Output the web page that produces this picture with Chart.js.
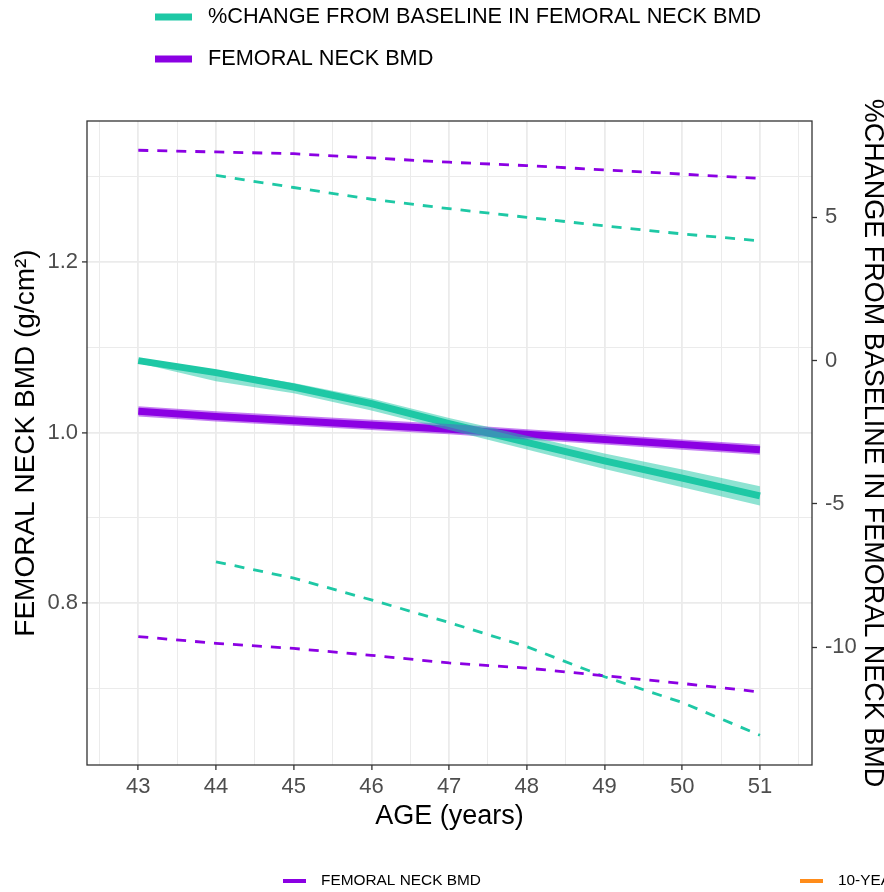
<!DOCTYPE html>
<html lang="en">
<head>
<meta charset="UTF-8">
<title>Femoral neck BMD by age</title>
<script src="https://cdn.jsdelivr.net/npm/chart.js"></script>
<style>
  html, body { margin: 0; padding: 0; background: #fff; }
</style>
</head>
<body>
<canvas id="bmdChart" width="884" height="892"></canvas>
<script>
// age (years) on the x axis
const ages = [43, 44, 45, 46, 47, 48, 49, 50, 51];
const dashAges = [44, 45, 46, 47, 48, 49, 50, 51];

// femoral neck BMD (g/cm2) - left axis
const bmdMean = [1.025, 1.019, 1.014, 1.009, 1.004, 0.998, 0.992, 0.986, 0.980];
const bmdLow  = [1.019, 1.013, 1.008, 1.003, 0.998, 0.992, 0.986, 0.980, 0.974];
const bmdHigh = [1.031, 1.025, 1.020, 1.015, 1.010, 1.004, 0.998, 0.992, 0.986];
const bmdUpperDash = [1.331, 1.329, 1.327, 1.322, 1.317, 1.313, 1.308, 1.303, 1.298];
const bmdLowerDash = [0.761, 0.753, 0.747, 0.739, 0.730, 0.724, 0.715, 0.706, 0.696];

// % change from baseline - right axis
const pctMean = [0, -0.42, -0.92, -1.5, -2.2, -2.85, -3.5, -4.1, -4.72];
const pctHigh = [0.06, -0.34, -0.78, -1.32, -2.0, -2.62, -3.24, -3.80, -4.38];
const pctLow  = [-0.08, -0.72, -1.14, -1.74, -2.42, -3.10, -3.78, -4.42, -5.06];
const pctUpperDash = [6.46, 6.04, 5.63, 5.3, 5.0, 4.7, 4.42, 4.18];
const pctLowerDash = [-7.02, -7.59, -8.35, -9.14, -9.98, -11.03, -11.93, -13.07];

const xTitle = 'AGE (years)';
const leftTitle = 'FEMORAL NECK BMD (g/cm\u00B2)';
const rightTitle = '%CHANGE FROM BASELINE IN FEMORAL NECK BMD';
const topLegend = ['%CHANGE FROM BASELINE IN FEMORAL NECK BMD', 'FEMORAL NECK BMD'];
const bottomLegend = ['FEMORAL NECK BMD', '10-YEAR'];

const teal = '#1ec8a5';
const purple = '#8b00e3';
const orange = '#ff8c1a';
const fontFamily = '"Liberation Sans", Arial, sans-serif';

const pts = (xs, ys) => xs.map((x, i) => ({ x: x, y: ys[i] }));
const isWhole = v => Math.abs(v - Math.round(v)) < 1e-6;

function line(xs, ys, axis, color, width, dash) {
  return {
    data: pts(xs, ys), yAxisID: axis, borderColor: color, borderWidth: width,
    borderDash: dash || [], pointRadius: 0, fill: false, tension: 0
  };
}

const datasets = [
  // confidence bands
  { data: pts(ages, pctLow), yAxisID: 'y2', borderWidth: 0, pointRadius: 0, fill: false },
  { data: pts(ages, pctHigh), yAxisID: 'y2', borderWidth: 0, pointRadius: 0, fill: '-1',
    backgroundColor: 'rgba(30,200,165,0.5)' },
  { data: pts(ages, bmdLow), yAxisID: 'y', borderWidth: 0, pointRadius: 0, fill: false },
  { data: pts(ages, bmdHigh), yAxisID: 'y', borderWidth: 0, pointRadius: 0, fill: '-1',
    backgroundColor: 'rgba(139,0,227,0.5)' },
  // dashed limits
  line(ages, bmdUpperDash, 'y', purple, 2.8, [10, 9]),
  line(ages, bmdLowerDash, 'y', purple, 2.8, [10, 9]),
  line(dashAges, pctUpperDash, 'y2', teal, 2.8, [10, 9]),
  line(dashAges, pctLowerDash, 'y2', teal, 2.8, [10, 9]),
  // main lines
  line(ages, pctMean, 'y2', teal, 7),
  line(ages, bmdMean, 'y', purple, 7)
];

const tickFont = { family: fontFamily, size: 22 };

// frame, axis titles and the two legends
const decorations = {
  id: 'decorations',
  afterDraw(chart) {
    const ctx = chart.ctx;
    const a = chart.chartArea;
    ctx.save();
    ctx.strokeStyle = '#333333';
    ctx.lineWidth = 1.3;
    ctx.strokeRect(a.left, a.top, a.right - a.left, a.bottom - a.top);

    ctx.fillStyle = '#000';
    ctx.textBaseline = 'middle';
    ctx.textAlign = 'center';
    ctx.font = '27px ' + fontFamily;
    ctx.fillText(xTitle, (a.left + a.right) / 2, 817);
    ctx.save();
    ctx.translate(26, 443);
    ctx.rotate(-Math.PI / 2);
    ctx.font = '28px ' + fontFamily;
    ctx.fillText(leftTitle, 0, 0);
    ctx.restore();
    ctx.save();
    ctx.translate(872, 443);
    ctx.rotate(Math.PI / 2);
    ctx.fillText(rightTitle, 0, 0);
    ctx.restore();

    // top legend
    ctx.textAlign = 'left';
    ctx.font = '21.7px ' + fontFamily;
    [teal, purple].forEach((c, i) => {
      const y = 17 + i * 42;
      ctx.fillStyle = c;
      ctx.fillRect(155, y - 3.5, 37, 7);
      ctx.fillStyle = '#000';
      ctx.fillText(topLegend[i], 208, y);
    });

    // bottom legend (cut off at the right edge)
    ctx.font = '15.4px ' + fontFamily;
    [[purple, 283], [orange, 800]].forEach((item, i) => {
      ctx.fillStyle = item[0];
      ctx.fillRect(item[1], 879, 23, 4);
      ctx.fillStyle = '#000';
      ctx.fillText(bottomLegend[i], item[1] + 38, 881);
    });
    ctx.restore();
  }
};

new Chart(document.getElementById('bmdChart'), {
  type: 'line',
  data: { datasets: datasets },
  options: {
    responsive: false,
    animation: false,
    layout: { padding: { top: 121, left: 0, right: 0, bottom: 0 } },
    plugins: { legend: { display: false }, tooltip: { enabled: false } },
    scales: {
      x: {
        type: 'linear', min: 42.34, max: 51.67,
        afterFit: s => { s.height = 127; },
        border: { display: false },
        grid: {
          color: '#ebebeb',
          lineWidth: c => isWhole(c.tick.value) ? 1.8 : 1,
          tickColor: c => isWhole(c.tick.value) ? '#333333' : 'rgba(0,0,0,0)',
          tickLength: 5, tickWidth: 1.3
        },
        ticks: {
          stepSize: 0.5, includeBounds: false, autoSkip: false, maxRotation: 0,
          color: '#4d4d4d', font: tickFont, padding: 4,
          callback: v => isWhole(v) ? String(Math.round(v)) : ''
        }
      },
      y: {
        type: 'linear', position: 'left', min: 0.6104, max: 1.3653,
        afterFit: s => { s.width = 87; },
        border: { display: false },
        grid: {
          color: '#ebebeb',
          lineWidth: c => Math.round(c.tick.value * 10) % 2 === 0 ? 1.8 : 1,
          tickColor: c => Math.round(c.tick.value * 10) % 2 === 0 ? '#333333' : 'rgba(0,0,0,0)',
          tickLength: 5, tickWidth: 1.3
        },
        ticks: {
          stepSize: 0.1, includeBounds: false, autoSkip: false,
          color: '#4d4d4d', font: tickFont, padding: 4,
          callback: v => Math.round(v * 10) % 2 === 0 ? v.toFixed(1) : ''
        }
      },
      y2: {
        type: 'linear', position: 'right', min: -14.11, max: 8.36,
        afterFit: s => { s.width = 72; },
        border: { display: false },
        grid: { drawOnChartArea: false, tickColor: '#333333', tickLength: 5, tickWidth: 1.3 },
        ticks: {
          stepSize: 5, includeBounds: false, autoSkip: false,
          color: '#4d4d4d', font: tickFont, padding: 8
        }
      }
    }
  },
  plugins: [decorations]
});
</script>
</body>
</html>
